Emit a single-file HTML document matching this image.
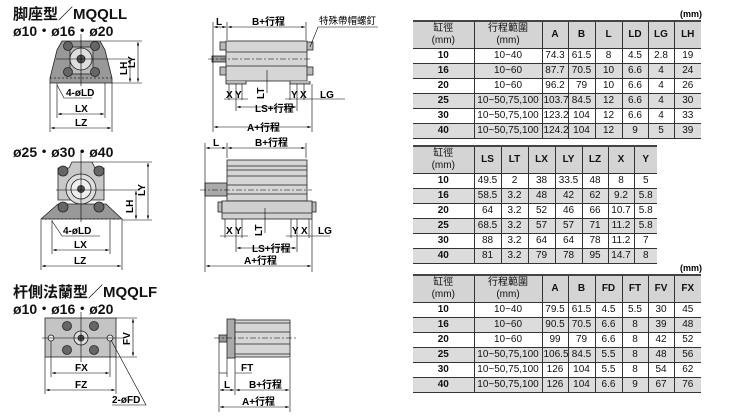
<!DOCTYPE html>
<html><head><meta charset="utf-8">
<style>
html,body{margin:0;padding:0;background:#fff;width:738px;height:416px;overflow:hidden;position:relative;font-family:"Liberation Sans","Noto Sans CJK TC",sans-serif;}
svg{position:absolute;left:0;top:0}
table{position:absolute;border-collapse:collapse;font-size:10px;color:#111;table-layout:fixed}
td{border-left:1px solid #333;border-right:1px solid #333;padding:0 1px;height:14px;line-height:14px;text-align:center;white-space:nowrap;overflow:hidden}
tr.h td{background:#d4d4d4;font-weight:bold;height:26px;line-height:12px;border-top:2px solid #444}
tr.h td:first-child,table.s tr.h td:nth-child(2){font-weight:normal;font-size:10px}
td:first-child{border-left:none;font-weight:bold}
td:last-child{border-right:none}
tr.g td{background:#dcdcdc}
tr td{border-bottom:1px solid #333}
.mm{position:absolute;font-size:9px;font-weight:bold}
</style></head><body>
<svg width="738" height="416" viewBox="0 0 738 416" font-family="Liberation Sans, Noto Sans CJK TC, sans-serif">
<defs>
<marker id="a" markerWidth="6" markerHeight="4" refX="6" refY="2" orient="auto-start-reverse"><path d="M0,0L6,2L0,4z" fill="#000"/></marker>
</defs>
<g font-weight="bold" fill="#111">
<text x="13" y="19" font-size="15">脚座型／MQQLL</text>
<text x="13" y="36" font-size="14">ø10・ø16・ø20</text>
<text x="13" y="157" font-size="14">ø25・ø30・ø40</text>
<text x="13" y="297" font-size="15">杆側法蘭型／MQQLF</text>
<text x="13" y="314" font-size="14">ø10・ø16・ø20</text>
</g>

<g stroke="#222" stroke-width="0.8">
<path d="M62,41 L100,41 L105,50 L112,78 L112,83 L50,83 L50,78 L57,50 Z" fill="#999"/>
<rect x="70" y="47" width="23" height="27" fill="#bbb"/>
<circle cx="81" cy="59" r="11" fill="#ddd"/>
<circle cx="81" cy="59" r="4" fill="#555"/>
<circle cx="68" cy="46" r="4.5" fill="#666"/><circle cx="95" cy="46" r="4.5" fill="#666"/>
<circle cx="68" cy="72" r="4.5" fill="#666"/><circle cx="95" cy="72" r="4.5" fill="#666"/>
<line x1="50" y1="78" x2="112" y2="78" stroke-dasharray="2,2"/>
</g>
<g stroke="#000" stroke-width="0.6" fill="none">
<line x1="81" y1="34" x2="81" y2="86"/><line x1="56" y1="59" x2="130" y2="59"/>
<line x1="100" y1="41" x2="142" y2="41"/><line x1="112" y1="83" x2="142" y2="83"/>
<line x1="138" y1="42" x2="138" y2="82" marker-start="url(#a)" marker-end="url(#a)"/>
<line x1="130" y1="60" x2="130" y2="82" marker-start="url(#a)" marker-end="url(#a)"/>
<line x1="57" y1="83" x2="57" y2="118"/><line x1="105" y1="83" x2="105" y2="118"/>
<line x1="50" y1="83" x2="50" y2="132"/><line x1="112" y1="83" x2="112" y2="132"/>
<line x1="58" y1="114" x2="104" y2="114" marker-start="url(#a)" marker-end="url(#a)"/>
<line x1="51" y1="128" x2="111" y2="128" marker-start="url(#a)" marker-end="url(#a)"/>
<polyline points="57,85 64,98 92,98"/>
</g>
<g font-size="10" font-weight="bold">
<text x="66" y="96">4-øLD</text><text x="75" y="112">LX</text><text x="75" y="126">LZ</text>
<text transform="translate(127,75) rotate(-90)">LH</text><text transform="translate(135,68) rotate(-90)">LY</text>
</g>

<g stroke="#222" stroke-width="0.8">
<rect x="212" y="56" width="15" height="6" fill="#999"/>
<rect x="220" y="42" width="8" height="8" fill="#bbb"/><rect x="220" y="67" width="8" height="8" fill="#bbb"/>
<rect x="305" y="42" width="8" height="8" fill="#bbb"/><rect x="305" y="67" width="8" height="8" fill="#bbb"/>
<rect x="226" y="41" width="81" height="40" fill="#d6d6d6"/>
<line x1="226" y1="52" x2="307" y2="52"/><line x1="226" y1="66" x2="307" y2="66"/>
<path d="M226,81 L226,84 L246,84 L246,81 M290,81 L290,84 L310,84 L310,81" fill="#bbb"/>
</g>
<g stroke="#000" stroke-width="0.6" fill="none">
<line x1="208" y1="59" x2="312" y2="59" stroke-dasharray="6,2,2,2"/>
<line x1="213" y1="22" x2="213" y2="132"/><line x1="227" y1="22" x2="227" y2="40"/><line x1="306" y1="22" x2="306" y2="40"/>
<line x1="312" y1="84" x2="312" y2="132"/>
<line x1="214" y1="27" x2="226" y2="27" marker-start="url(#a)" marker-end="url(#a)"/>
<line x1="228" y1="27" x2="305" y2="27" marker-start="url(#a)" marker-end="url(#a)"/>
<polyline points="310,47 318,27 378,27"/>
<line x1="214" y1="127" x2="311" y2="127" marker-start="url(#a)" marker-end="url(#a)"/>
<line x1="236" y1="84" x2="236" y2="111"/><line x1="297" y1="84" x2="297" y2="111"/>
<line x1="237" y1="107" x2="296" y2="107" marker-start="url(#a)" marker-end="url(#a)"/>
<line x1="229" y1="84" x2="229" y2="100"/><line x1="242" y1="84" x2="242" y2="100"/><line x1="290" y1="84" x2="290" y2="100"/><line x1="304" y1="84" x2="304" y2="100"/>
<line x1="224" y1="99" x2="248" y2="99"/><line x1="285" y1="99" x2="345" y2="99"/>
<line x1="267" y1="70" x2="267" y2="93"/>
</g>
<g font-size="10" font-weight="bold">
<text x="216" y="25">L</text><text x="252" y="25">B+行程</text>
<text x="319" y="24" font-weight="normal" font-size="9.5">特殊帶帽螺釘</text>
<text x="226" y="98">X</text><text x="235" y="98">Y</text><text x="291" y="98">Y</text><text x="300" y="98">X</text>
<text x="320" y="98">LG</text><text transform="translate(264,99) rotate(-90)">LT</text>
<text x="255" y="112">LS+行程</text><text x="247" y="131">A+行程</text>
</g>

<g stroke="#222" stroke-width="0.8">
<path d="M72,162 L92,162 L95,168 L104,168 L104,200 L58,200 L58,168 L69,168 Z" fill="#c8c8c8"/>
<circle cx="81" cy="189" r="15" fill="#ddd"/><circle cx="81" cy="189" r="10" fill="#eee"/><circle cx="81" cy="189" r="3.5" fill="#555"/>
<circle cx="63" cy="171" r="5" fill="#666"/><circle cx="99" cy="171" r="5" fill="#666"/>
<path d="M41,219 L58,204 L106,204 L122,219 Z" fill="#999"/>
<circle cx="63" cy="207" r="5" fill="#666"/><circle cx="99" cy="207" r="5" fill="#666"/>
<line x1="41" y1="219" x2="122" y2="219" stroke-dasharray="2,2"/>
</g>
<g stroke="#000" stroke-width="0.6" fill="none">
<line x1="81" y1="150" x2="81" y2="222"/><line x1="56" y1="190" x2="140" y2="190"/>
<line x1="92" y1="162" x2="152" y2="162"/><line x1="122" y1="220" x2="152" y2="220"/>
<line x1="148" y1="163" x2="148" y2="219" marker-start="url(#a)" marker-end="url(#a)"/>
<line x1="136" y1="191" x2="136" y2="219" marker-start="url(#a)" marker-end="url(#a)"/>
<line x1="52" y1="220" x2="52" y2="254"/><line x1="110" y1="220" x2="110" y2="254"/>
<line x1="41" y1="220" x2="41" y2="270"/><line x1="122" y1="220" x2="122" y2="270"/>
<line x1="53" y1="250" x2="109" y2="250" marker-start="url(#a)" marker-end="url(#a)"/>
<line x1="42" y1="266" x2="121" y2="266" marker-start="url(#a)" marker-end="url(#a)"/>
<polyline points="52,221 62,236 100,236"/>
</g>
<g font-size="10" font-weight="bold">
<text x="63" y="234">4-øLD</text><text x="74" y="248">LX</text><text x="74" y="264">LZ</text>
<text transform="translate(133,213) rotate(-90)">LH</text><text transform="translate(145,196) rotate(-90)">LY</text>
</g>

<g stroke="#222" stroke-width="0.8">
<rect x="205" y="183" width="22" height="13" fill="#aaa"/>
<rect x="227" y="160" width="80" height="41" fill="#d6d6d6"/>
<line x1="227" y1="166" x2="307" y2="166"/><line x1="227" y1="170" x2="307" y2="170"/><line x1="227" y1="176" x2="307" y2="176"/><line x1="227" y1="185" x2="307" y2="185"/><line x1="227" y1="194" x2="307" y2="194"/>
<rect x="218" y="202" width="4" height="10" fill="#bbb"/><rect x="312" y="202" width="4" height="10" fill="#bbb"/>
<rect x="222" y="201" width="90" height="18" fill="#d0d0d0"/>
<line x1="222" y1="213" x2="312" y2="213"/>
</g>
<g stroke="#000" stroke-width="0.6" fill="none">
<line x1="200" y1="190" x2="312" y2="190" stroke-dasharray="6,2,2,2"/>
<line x1="205" y1="143" x2="205" y2="272"/><line x1="227" y1="143" x2="227" y2="158"/><line x1="306" y1="143" x2="306" y2="158"/>
<line x1="312" y1="219" x2="312" y2="272"/>
<line x1="206" y1="148" x2="226" y2="148" marker-start="url(#a)" marker-end="url(#a)"/>
<line x1="228" y1="148" x2="305" y2="148" marker-start="url(#a)" marker-end="url(#a)"/>
<line x1="206" y1="266" x2="311" y2="266" marker-start="url(#a)" marker-end="url(#a)"/>
<line x1="236" y1="219" x2="236" y2="252"/><line x1="297" y1="219" x2="297" y2="252"/>
<line x1="237" y1="248" x2="296" y2="248" marker-start="url(#a)" marker-end="url(#a)"/>
<line x1="225" y1="219" x2="225" y2="238"/><line x1="242" y1="219" x2="242" y2="238"/><line x1="291" y1="219" x2="291" y2="238"/><line x1="309" y1="219" x2="309" y2="238"/>
<line x1="220" y1="236" x2="248" y2="236"/><line x1="286" y1="236" x2="330" y2="236"/>
<line x1="265" y1="208" x2="265" y2="233"/>
</g>
<g font-size="10" font-weight="bold">
<text x="213" y="146">L</text><text x="255" y="146">B+行程</text>
<text x="226" y="234">X</text><text x="235" y="234">Y</text><text x="292" y="234">Y</text><text x="301" y="234">X</text>
<text x="318" y="234">LG</text><text transform="translate(262,236) rotate(-90)">LT</text>
<text x="252" y="252">LS+行程</text><text x="244" y="264">A+行程</text>
</g>

<g stroke="#222" stroke-width="0.8">
<rect x="45" y="318" width="71" height="39" fill="#c4c4c4"/>
<circle cx="81" cy="338" r="7" fill="#ddd"/><circle cx="81" cy="338" r="3" fill="#555"/>
<circle cx="67" cy="326" r="4.5" fill="#666"/><circle cx="94" cy="326" r="4.5" fill="#666"/>
<circle cx="67" cy="350" r="4.5" fill="#666"/><circle cx="94" cy="350" r="4.5" fill="#666"/>
<circle cx="51" cy="338" r="3" fill="#eee"/><circle cx="110" cy="338" r="3" fill="#eee"/>
</g>
<g stroke="#000" stroke-width="0.6" fill="none">
<line x1="81" y1="312" x2="81" y2="362"/><line x1="42" y1="338" x2="124" y2="338"/>
<line x1="116" y1="318" x2="137" y2="318"/><line x1="116" y1="357" x2="137" y2="357"/>
<line x1="133" y1="319" x2="133" y2="356" marker-start="url(#a)" marker-end="url(#a)"/>
<line x1="51" y1="341" x2="51" y2="377"/><line x1="110" y1="341" x2="110" y2="377"/>
<line x1="45" y1="357" x2="45" y2="394"/><line x1="116" y1="357" x2="116" y2="394"/>
<line x1="52" y1="373" x2="109" y2="373" marker-start="url(#a)" marker-end="url(#a)"/>
<line x1="46" y1="390" x2="115" y2="390" marker-start="url(#a)" marker-end="url(#a)"/>
<polyline points="111,340 146,405 112,405"/>
</g>
<g font-size="10" font-weight="bold">
<text x="75" y="371">FX</text><text x="75" y="388">FZ</text><text x="112" y="403">2-øFD</text>
<text transform="translate(130,345) rotate(-90)">FV</text>
</g>

<g stroke="#222" stroke-width="0.8">
<rect x="219" y="335" width="8" height="7" fill="#999"/>
<rect x="227" y="319" width="8" height="39" fill="#aaa"/>
<rect x="235" y="320" width="55" height="37" fill="#d6d6d6"/>
<line x1="235" y1="323" x2="290" y2="323"/><line x1="235" y1="332" x2="290" y2="332"/><line x1="235" y1="344" x2="290" y2="344"/><line x1="235" y1="354" x2="290" y2="354"/>
</g>
<g stroke="#000" stroke-width="0.6" fill="none">
<line x1="214" y1="338" x2="296" y2="338" stroke-dasharray="6,2,2,2"/>
<line x1="219" y1="342" x2="219" y2="412"/><line x1="227" y1="358" x2="227" y2="377"/><line x1="235" y1="358" x2="235" y2="395"/><line x1="290" y1="358" x2="290" y2="412"/>
<line x1="219" y1="373" x2="227" y2="373"/><line x1="235" y1="373" x2="252" y2="373"/>
<line x1="220" y1="390" x2="234" y2="390" marker-start="url(#a)" marker-end="url(#a)"/>
<line x1="236" y1="390" x2="289" y2="390" marker-start="url(#a)" marker-end="url(#a)"/>
<line x1="220" y1="407" x2="289" y2="407" marker-start="url(#a)" marker-end="url(#a)"/>
</g>
<g font-size="10" font-weight="bold">
<text x="241" y="371">FT</text><text x="224" y="388">L</text><text x="249" y="388">B+行程</text><text x="242" y="405">A+行程</text>
</g>
</svg>

<div class="mm" style="left:680px;top:9px">(mm)</div>
<table class="s" style="left:413px;top:20px;width:288px">
<colgroup><col style="width:61px"><col style="width:68px"><col style="width:26px"><col style="width:27px"><col style="width:27px"><col style="width:26px"><col style="width:26px"><col style="width:27px"></colgroup>
<tr class="h"><td>缸徑<br>(mm)</td><td>行程範圍<br>(mm)</td><td>A</td><td>B</td><td>L</td><td>LD</td><td>LG</td><td>LH</td></tr>
<tr><td>10</td><td>10~40</td><td>74.3</td><td>61.5</td><td>8</td><td>4.5</td><td>2.8</td><td>19</td></tr>
<tr class="g"><td>16</td><td>10~60</td><td>87.7</td><td>70.5</td><td>10</td><td>6.6</td><td>4</td><td>24</td></tr>
<tr><td>20</td><td>10~60</td><td>96.2</td><td>79</td><td>10</td><td>6.6</td><td>4</td><td>26</td></tr>
<tr class="g"><td>25</td><td>10~50,75,100</td><td>103.7</td><td>84.5</td><td>12</td><td>6.6</td><td>4</td><td>30</td></tr>
<tr><td>30</td><td>10~50,75,100</td><td>123.2</td><td>104</td><td>12</td><td>6.6</td><td>4</td><td>33</td></tr>
<tr class="g"><td>40</td><td>10~50,75,100</td><td>124.2</td><td>104</td><td>12</td><td>9</td><td>5</td><td>39</td></tr>
</table>

<table style="left:413px;top:145px;width:244px">
<colgroup><col style="width:61px"><col style="width:27px"><col style="width:27px"><col style="width:27px"><col style="width:27px"><col style="width:26px"><col style="width:26px"><col style="width:23px"></colgroup>
<tr class="h"><td>缸徑<br>(mm)</td><td>LS</td><td>LT</td><td>LX</td><td>LY</td><td>LZ</td><td>X</td><td>Y</td></tr>
<tr><td>10</td><td>49.5</td><td>2</td><td>38</td><td>33.5</td><td>48</td><td>8</td><td>5</td></tr>
<tr class="g"><td>16</td><td>58.5</td><td>3.2</td><td>48</td><td>42</td><td>62</td><td>9.2</td><td>5.8</td></tr>
<tr><td>20</td><td>64</td><td>3.2</td><td>52</td><td>46</td><td>66</td><td>10.7</td><td>5.8</td></tr>
<tr class="g"><td>25</td><td>68.5</td><td>3.2</td><td>57</td><td>57</td><td>71</td><td>11.2</td><td>5.8</td></tr>
<tr><td>30</td><td>88</td><td>3.2</td><td>64</td><td>64</td><td>78</td><td>11.2</td><td>7</td></tr>
<tr class="g"><td>40</td><td>81</td><td>3.2</td><td>79</td><td>78</td><td>95</td><td>14.7</td><td>8</td></tr>
</table>

<div class="mm" style="left:680px;top:263px">(mm)</div>
<table class="s" style="left:413px;top:274px;width:288px">
<colgroup><col style="width:61px"><col style="width:68px"><col style="width:26px"><col style="width:27px"><col style="width:27px"><col style="width:26px"><col style="width:26px"><col style="width:27px"></colgroup>
<tr class="h"><td>缸徑<br>(mm)</td><td>行程範圍<br>(mm)</td><td>A</td><td>B</td><td>FD</td><td>FT</td><td>FV</td><td>FX</td></tr>
<tr><td>10</td><td>10~40</td><td>79.5</td><td>61.5</td><td>4.5</td><td>5.5</td><td>30</td><td>45</td></tr>
<tr class="g"><td>16</td><td>10~60</td><td>90.5</td><td>70.5</td><td>6.6</td><td>8</td><td>39</td><td>48</td></tr>
<tr><td>20</td><td>10~60</td><td>99</td><td>79</td><td>6.6</td><td>8</td><td>42</td><td>52</td></tr>
<tr class="g"><td>25</td><td>10~50,75,100</td><td>106.5</td><td>84.5</td><td>5.5</td><td>8</td><td>48</td><td>56</td></tr>
<tr><td>30</td><td>10~50,75,100</td><td>126</td><td>104</td><td>5.5</td><td>8</td><td>54</td><td>62</td></tr>
<tr class="g"><td>40</td><td>10~50,75,100</td><td>126</td><td>104</td><td>6.6</td><td>9</td><td>67</td><td>76</td></tr>
</table>
</body></html>
